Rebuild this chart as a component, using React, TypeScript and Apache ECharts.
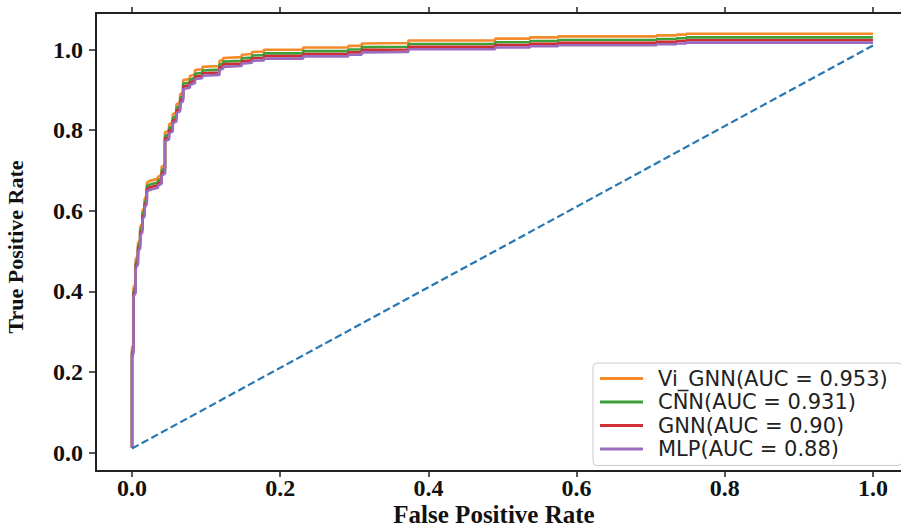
import React, { useEffect, useRef } from "react";
import * as echarts from "echarts";

// Shared false positive rate values (staircase points of the ROC curves)
const FPR = [
  0, 0, 0.002, 0.002, 0.005, 0.005, 0.008, 0.008, 0.011, 0.011,
  0.014, 0.014, 0.017, 0.017, 0.02, 0.02, 0.024, 0.035, 0.035, 0.04,
  0.04, 0.0445, 0.0445, 0.05, 0.05, 0.055, 0.055, 0.06, 0.06, 0.065,
  0.065, 0.069, 0.069, 0.078, 0.078, 0.085, 0.085, 0.095, 0.095, 0.118,
  0.118, 0.123, 0.123, 0.148, 0.148, 0.162, 0.162, 0.178, 0.178, 0.231,
  0.231, 0.292, 0.292, 0.31, 0.31, 0.373, 0.373, 0.49, 0.49, 0.537,
  0.537, 0.575, 0.575, 0.708, 0.708, 0.735, 0.735, 0.748, 0.748, 1.0,
];

const TPR_VI_GNN = [
  0.012, 0.259, 0.269, 0.409, 0.419, 0.479, 0.489, 0.519, 0.529, 0.559,
  0.569, 0.599, 0.609, 0.629, 0.639, 0.669, 0.674, 0.679, 0.684, 0.689,
  0.709, 0.714, 0.794, 0.799, 0.814, 0.819, 0.839, 0.844, 0.864, 0.869,
  0.889, 0.894, 0.924, 0.927, 0.934, 0.939, 0.949, 0.951, 0.957, 0.959,
  0.972, 0.974, 0.979, 0.981, 0.987, 0.989, 0.994, 0.995, 0.9995, 0.9995,
  1.005, 1.005, 1.009, 1.009, 1.015, 1.016, 1.0225, 1.0225, 1.027, 1.027,
  1.03, 1.03, 1.0325, 1.0325, 1.035, 1.035, 1.037, 1.037, 1.039, 1.039,
];

const TPR_CNN = [
  0.012, 0.25, 0.26, 0.4, 0.41, 0.47, 0.48, 0.51, 0.52, 0.55,
  0.56, 0.59, 0.6, 0.62, 0.63, 0.66, 0.665, 0.67, 0.675, 0.68,
  0.7, 0.705, 0.785, 0.79, 0.805, 0.81, 0.83, 0.835, 0.855, 0.86,
  0.88, 0.885, 0.915, 0.918, 0.925, 0.93, 0.94, 0.942, 0.948, 0.95,
  0.963, 0.965, 0.97, 0.972, 0.978, 0.98, 0.985, 0.986, 0.9905, 0.9905,
  0.996, 0.996, 1.0, 1.0, 1.006, 1.007, 1.0135, 1.0135, 1.018, 1.018,
  1.021, 1.021, 1.0235, 1.0235, 1.026, 1.026, 1.028, 1.028, 1.03, 1.03,
];

const TPR_GNN = [
  0.012, 0.243, 0.253, 0.393, 0.403, 0.463, 0.473, 0.503, 0.513, 0.543,
  0.553, 0.583, 0.593, 0.613, 0.623, 0.653, 0.658, 0.663, 0.668, 0.673,
  0.693, 0.698, 0.778, 0.783, 0.798, 0.803, 0.823, 0.828, 0.848, 0.853,
  0.873, 0.878, 0.908, 0.911, 0.918, 0.923, 0.933, 0.935, 0.941, 0.943,
  0.956, 0.958, 0.963, 0.965, 0.971, 0.973, 0.978, 0.979, 0.9835, 0.9835,
  0.989, 0.989, 0.993, 0.993, 0.999, 1.0, 1.0065, 1.0065, 1.011, 1.011,
  1.014, 1.014, 1.0165, 1.0165, 1.019, 1.019, 1.021, 1.021, 1.023, 1.023,
];

const TPR_MLP = [
  0.012, 0.237, 0.247, 0.387, 0.397, 0.457, 0.467, 0.497, 0.507, 0.537,
  0.547, 0.577, 0.587, 0.607, 0.617, 0.647, 0.652, 0.657, 0.662, 0.667,
  0.687, 0.692, 0.772, 0.777, 0.792, 0.797, 0.817, 0.822, 0.842, 0.847,
  0.867, 0.872, 0.902, 0.905, 0.912, 0.917, 0.927, 0.929, 0.935, 0.937,
  0.95, 0.952, 0.957, 0.959, 0.965, 0.967, 0.972, 0.973, 0.9775, 0.9775,
  0.983, 0.983, 0.987, 0.987, 0.993, 0.994, 1.0005, 1.0005, 1.005, 1.005,
  1.008, 1.008, 1.0105, 1.0105, 1.013, 1.013, 1.015, 1.015, 1.017, 1.017,
];

const SERIES_NAMES = [
  "Vi_GNN(AUC = 0.953)",
  "CNN(AUC = 0.931)",
  "GNN(AUC = 0.90)",
  "MLP(AUC = 0.88)",
];
const SERIES_TPR = [TPR_VI_GNN, TPR_CNN, TPR_GNN, TPR_MLP];
const SERIES_COLORS = ["#f58a2a", "#3ca03a", "#cf3035", "#9a6cc0"];

const CHANCE_X = [0, 1];
const CHANCE_Y = [0.01, 1.01];

const X_TICKS = [0, 0.2, 0.4, 0.6, 0.8, 1.0];
const Y_TICKS = [0, 0.2, 0.4, 0.6, 0.8, 1.0];

export default function App() {
  const ref = useRef<HTMLDivElement>(null);

  useEffect(() => {
    const chart = echarts.init(ref.current!, null, { renderer: "svg" });
    const axisColor = "#222222";
    const tickFont = {
      fontFamily: "Liberation Serif",
      fontWeight: "bold" as const,
      fontSize: 24,
      color: "#111111",
    };

    const lineSeries = SERIES_NAMES.map((name, k) => ({
      name,
      type: "line" as const,
      xAxisIndex: 0,
      yAxisIndex: 0,
      data: FPR.map((x, i) => [x, SERIES_TPR[k][i]]),
      showSymbol: false,
      symbol: "none",
      color: SERIES_COLORS[k],
      lineStyle: { width: 2.6, color: SERIES_COLORS[k] },
      silent: true,
    }));

    chart.setOption({
      animation: false,
      backgroundColor: "#ffffff",
      grid: {
        left: 96,
        top: 13,
        right: 10,
        bottom: 55,
        containLabel: false,
        outerBoundsMode: "none",
      },
      xAxis: [
        {
          type: "value",
          position: "bottom",
          min: -0.0486,
          max: 1.05,
          axisLine: { show: true, onZero: false, lineStyle: { color: axisColor, width: 2 } },
          axisTick: {
            show: true,
            customValues: X_TICKS,
            length: 6,
            lineStyle: { color: axisColor, width: 1.5 },
          },
          axisLabel: {
            show: true,
            customValues: X_TICKS,
            formatter: (v: number) => v.toFixed(1),
            margin: 7,
            lineHeight: 20,
            ...tickFont,
          },
          splitLine: { show: false },
          name: "False Positive Rate",
          nameLocation: "middle",
          nameGap: 31,
          nameMoveOverlap: false,
          nameTextStyle: {
            fontFamily: "Liberation Serif",
            fontWeight: "bold",
            fontSize: 25,
            lineHeight: 24,
            color: "#111111",
            padding: [0, 18, 0, 0],
          },
        },
        {
          type: "value",
          position: "top",
          min: -0.0486,
          max: 1.05,
          axisLine: { show: true, onZero: false, lineStyle: { color: axisColor, width: 2 } },
          axisTick: {
            show: true,
            customValues: X_TICKS,
            length: 6,
            lineStyle: { color: axisColor, width: 1.5 },
          },
          axisLabel: { show: false },
          splitLine: { show: false },
        },
      ],
      yAxis: {
        type: "value",
        min: -0.0459,
        max: 1.0906,
        axisLine: { show: true, onZero: false, lineStyle: { color: axisColor, width: 2 } },
        axisTick: {
          show: true,
          customValues: Y_TICKS,
          length: 7,
          lineStyle: { color: axisColor, width: 1.5 },
        },
        axisLabel: {
          show: true,
          customValues: Y_TICKS,
          formatter: (v: number) => v.toFixed(1),
          margin: 13,
          ...tickFont,
        },
        splitLine: { show: false },
        name: "True Positive Rate",
        nameLocation: "middle",
        nameGap: 70,
        nameRotate: 90,
        nameTextStyle: {
          fontFamily: "Liberation Serif",
          fontWeight: "bold",
          fontSize: 22,
          color: "#111111",
          padding: [0, 10, 0, 0],
        },
      },
      legend: {
        data: SERIES_NAMES,
        orient: "vertical",
        left: 593,
        top: 363,
        icon: "rect",
        itemWidth: 43,
        itemHeight: 3,
        itemGap: 2.5,
        padding: [5, 14, 6, 7],
        backgroundColor: "rgba(255,255,255,0.85)",
        borderColor: "#cccccc",
        borderWidth: 1,
        borderRadius: 4,
        textStyle: {
          fontFamily: "DejaVu Sans",
          fontSize: 21,
          color: "#222222",
          padding: [0, 0, 0, 10],
        },
      },
      series: [
        ...lineSeries,
        {
          name: "chance",
          type: "line",
          data: CHANCE_X.map((x, i) => [x, CHANCE_Y[i]]),
          showSymbol: false,
          symbol: "none",
          color: "#2677b2",
          lineStyle: { width: 2.2, type: [7.5, 3.5], color: "#2677b2" },
          silent: true,
        },
      ],
    });

    return () => chart.dispose();
  }, []);

  return (
    <div
      ref={ref}
      style={{
        position: "fixed",
        left: 0,
        top: 0,
        width: 920,
        height: 526,
        background: "#ffffff",
      }}
    />
  );
}
